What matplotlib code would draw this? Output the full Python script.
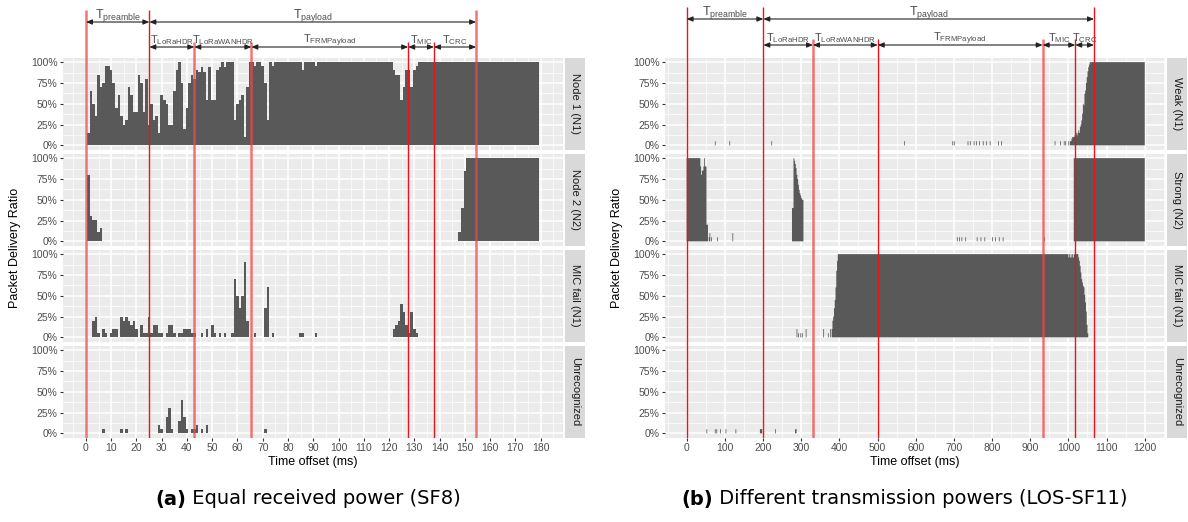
import matplotlib
matplotlib.use('Agg')
import matplotlib.pyplot as plt
import numpy as np
from matplotlib.ticker import MultipleLocator

plt.rcParams['font.family'] = ['Liberation Sans', 'DejaVu Sans']
plt.rcParams['mathtext.default'] = 'regular'

# ---------------- (a) Equal received power (SF8), 1 ms bins (centres 1..179 ms)
strips_a = ['Node 1 (N1)', 'Node 2 (N2)', 'MIC fail (N1)', 'Unrecognized']
node1_a = ([0.15, 0.65, 0.50, 0.35, 0.85, 0.70, 0.75, 0.95, 0.95, 0.90,
            0.75, 0.45, 0.60, 0.35, 0.25, 0.30, 0.70, 0.60, 0.40, 0.40,
            0.85, 0.75, 0.40, 0.80, 0.25, 0.50, 0.30, 0.35, 0.15, 0.60,
            0.55, 0.50, 0.25, 0.25, 0.65, 0.90, 1.00, 0.75, 0.20, 0.45,
            0.75, 0.85, 0.80, 0.90, 0.88, 0.94, 0.88, 0.55, 0.94, 0.55,
            0.55, 0.90, 0.94, 1.00, 0.94, 1.00, 1.00, 1.00, 0.30, 0.50,
            0.55, 0.60, 0.10, 0.70]
           + [1.0, 1.0, 0.95, 1.0, 1.0, 0.95, 0.75, 0.30, 1.0, 0.95]
           + [1.0] * 11 + [0.90] + [1.0] * 4 + [0.95] + [1.0] * 30
           + [0.90, 0.85, 0.85, 0.55, 0.70, 0.90, 0.90, 0.70, 0.90, 0.95]
           + [1.0] * 48)
node2_a_t = [1, 2, 3, 4, 5, 6, 148, 149, 150] + list(range(151, 180))
node2_a_v = [0.80, 0.31, 0.26, 0.26, 0.11, 0.16, 0.11, 0.40, 0.85] + [1.0] * 29
mic_a_t = [3, 4, 5, 7, 8, 10, 11, 12,
           14, 15, 16, 17, 18, 19, 20,
           22, 23, 24, 25, 26, 27, 28, 29, 30,
           32, 33, 34, 35,
           37, 38, 39, 40, 41, 42, 43,
           46, 48, 50, 51, 53, 55, 58,
           59, 60, 61, 62, 63, 64,
           67, 71, 72, 74,
           85, 86, 91,
           122, 123, 124, 125, 126, 127, 128, 129, 130, 131]
mic_a_v = [0.20, 0.25, 0.05, 0.10, 0.05, 0.05, 0.10, 0.10,
           0.25, 0.20, 0.25, 0.20, 0.15, 0.20, 0.10,
           0.15, 0.05, 0.05, 0.25, 0.05, 0.15, 0.15, 0.05, 0.05,
           0.05, 0.15, 0.15, 0.05,
           0.05, 0.05, 0.10, 0.10, 0.10, 0.05, 0.05,
           0.05, 0.10, 0.15, 0.05, 0.05, 0.05, 0.05,
           0.70, 0.50, 0.35, 0.50, 0.90, 0.20,
           0.05, 0.35, 0.60, 0.05,
           0.05, 0.05, 0.05,
           0.10, 0.15, 0.20, 0.40, 0.30, 0.15, 0.05, 0.30, 0.10, 0.05]
unrec_a_t = [7, 14, 16, 29, 30, 32, 33, 34, 37, 38, 39, 40, 42, 43, 44, 46, 48, 71]
unrec_a_v = [0.05, 0.05, 0.05, 0.10, 0.05, 0.20, 0.30, 0.05, 0.15, 0.40,
             0.20, 0.05, 0.05, 0.05, 0.10, 0.05, 0.10, 0.05]
main_lines_a = [0, 25.1, 154.5]
sub_lines_a = [42.9, 65.5, 127.6, 137.8]
top_spans_a = [('preamble', 0, 25.1), ('payload', 25.1, 154.5)]
sub_spans_a = [('LoRaHDR', 25.1, 42.9), ('LoRaWANHDR', 42.9, 65.5),
               ('FRMPayload', 65.5, 127.6), ('MIC', 127.6, 137.8), ('CRC', 137.8, 154.5)]

# ---------------- (b) Different transmission powers (LOS-SF11), 2 ms bins
strips_b = ['Weak (N1)', 'Strong (N2)', 'MIC fail (N1)', 'Unrecognized']
weak_runs_b = [(1056, 1200, 1.0)]
weak_b_t = [75, 113, 222, 570, 696, 701, 737, 742, 752, 758, 767, 776, 784, 794,
            816, 824, 965, 979, 989, 993, 1000, 1004,
            1007, 1009, 1011, 1013, 1015, 1017, 1019, 1021, 1023, 1025, 1027, 1029,
            1031, 1033, 1035, 1037, 1039, 1041, 1043, 1045, 1047, 1049, 1051, 1053, 1055]
weak_b_v = [0.05] * 22 + [0.05, 0.08, 0.10, 0.10, 0.10, 0.12, 0.10, 0.15, 0.12, 0.15,
                          0.18, 0.15, 0.22, 0.25, 0.30, 0.38, 0.50, 0.48, 0.62, 0.66,
                          0.75, 0.82, 0.89, 0.94, 0.97]
strong_runs_b = [(0, 36, 1.0), (1014, 1200, 1.0)]
strong_b_t = [37, 39, 41, 43, 45, 47, 49, 51, 53, 55, 59, 61, 65, 81, 121,
              277, 279, 281, 283, 285, 287, 289, 291, 293, 295, 297, 299, 301, 303, 305,
              709, 714, 721, 731, 760, 770, 780, 801, 809, 819, 829, 937]
strong_b_v = [0.90, 0.80, 0.85, 0.85, 0.90, 1.00, 0.90, 0.90, 0.20, 0.20,
              0.05, 0.10, 0.05, 0.05, 0.10,
              0.40, 0.40, 1.00, 0.97, 0.93, 0.88, 0.80, 0.75, 0.68, 0.62, 0.58,
              0.55, 0.52, 0.50, 0.50] + [0.05] * 12
mic_runs_b = [(396, 1000, 1.0), (1014, 1026, 1.0)]
mic_b_t = [289, 293, 299, 303, 313, 359, 371, 377, 381, 383, 385, 387, 389, 391, 393, 395,
           1001, 1003, 1005, 1007, 1009, 1011, 1013,
           1027, 1029, 1031, 1033, 1035, 1037, 1039, 1041, 1043, 1045, 1047, 1049, 1051]
mic_b_v = [0.10, 0.05, 0.05, 0.05, 0.10, 0.10, 0.05, 0.10, 0.10, 0.20, 0.25, 0.35,
           0.45, 0.60, 0.80, 0.92,
           0.96, 1.00, 0.96, 1.00, 0.96, 1.00, 0.96,
           0.96, 0.92, 0.86, 0.78, 0.70, 0.66, 0.62, 0.60, 0.51, 0.42, 0.31, 0.15, 0.05]
unrec_b_t = [53, 75, 79, 89, 103, 129, 193, 195, 197, 233, 285, 287]
unrec_b_v = [0.05] * 12
main_lines_b = [0, 201, 1067]
sub_lines_b = [331, 500.6, 932.6, 1018]
top_spans_b = [('preamble', 0, 201), ('payload', 201, 1067)]
sub_spans_b = [('LoRaHDR', 201, 331), ('LoRaWANHDR', 331, 500.6),
               ('FRMPayload', 500.6, 932.6), ('MIC', 932.6, 1018), ('CRC', 1018, 1067)]

W, H = 1188, 522
fig = plt.figure(figsize=(W / 100, H / 100), dpi=100)


def box(x0, y0, x1, y1):
    return [x0 / W, 1 - y1 / H, (x1 - x0) / W, (y1 - y0) / H]


def binned(edges, times, vals, runs=()):
    out = np.zeros(len(edges) - 1)
    for t0, t1, v in runs:
        out[(edges[:-1] >= t0) & (edges[1:] <= t1)] = v
    idx = np.searchsorted(edges, times, side='right') - 1
    out[idx] = vals
    return out


PANEL_TOPS = [58, 154, 250, 346]
PANEL_H = 91.5


def chart(left, right, xlim, xmajor, strips, series, edges,
          main_lines, sub_lines, light, top_spans, sub_spans, rows, line_tops, ylab_x):
    for i, (name, vals) in enumerate(zip(strips, series)):
        top = PANEL_TOPS[i]
        ax = fig.add_axes(box(left, top, right, top + PANEL_H))
        ax.set_facecolor('#ebebeb')
        ax.stairs(vals, edges, fill=True, color='#595959', lw=0)
        ax.set_xlim(xlim)
        ax.set_ylim(-0.05, 1.05)
        ax.xaxis.set_major_locator(MultipleLocator(xmajor))
        ax.xaxis.set_minor_locator(MultipleLocator(xmajor / 2))
        ax.yaxis.set_major_locator(MultipleLocator(0.25))
        ax.yaxis.set_minor_locator(MultipleLocator(0.125))
        ax.grid(which='major', color='white', lw=1.1)
        ax.grid(which='minor', color='white', lw=0.5)
        ax.set_axisbelow(True)
        for s in ax.spines.values():
            s.set_visible(False)
        ax.set_yticks([0, 0.25, 0.5, 0.75, 1.0])
        ax.set_yticklabels(['0%', '25%', '50%', '75%', '100%'])
        ax.tick_params(which='major', length=2.5, width=0.8, color='#333333',
                       labelsize=7.5, labelcolor='#4d4d4d', pad=1.5)
        ax.tick_params(which='minor', length=0)
        if i < 3:
            ax.tick_params(axis='x', which='major', length=0, labelbottom=False)
        st = fig.add_axes(box(right + 2, top, right + 22, top + PANEL_H))
        st.set_facecolor('#d9d9d9')
        st.set_xticks([])
        st.set_yticks([])
        for s in st.spines.values():
            s.set_visible(False)
        st.text(0.5, 0.5, name, rotation=-90, ha='center', va='center',
                fontsize=8, color='#1a1a1a', transform=st.transAxes)

    bottom = PANEL_TOPS[-1] + PANEL_H
    ov = fig.add_axes(box(left, 0, right, bottom))
    ov.set_xlim(xlim)
    ov.set_ylim(bottom, 0)
    ov.axis('off')
    ov.patch.set_alpha(0)
    for x in main_lines + sub_lines:
        y0 = line_tops[0] if x in main_lines else line_tops[1]
        if x in light:
            ov.vlines(x, y0, bottom, color='#f04848', lw=1.8, alpha=0.75)
        else:
            ov.vlines(x, y0, bottom, color='#e8141c', lw=1.0)
    for (spans, y, fs) in [(top_spans, rows[0], 9), (sub_spans, rows[1], 8)]:
        for label, x0, x1 in spans:
            ov.annotate('', xy=(x1, y), xytext=(x0, y),
                        arrowprops=dict(arrowstyle='<|-|>,head_length=0.6,head_width=0.25',
                                        color='#222222', lw=0.8, mutation_scale=6,
                                        shrinkA=0, shrinkB=0))
            ov.text((x0 + x1) / 2, y - 4, 'T$_{' + label + '}$', ha='center',
                    va='baseline', fontsize=fs, color='#4d4d4d')

    fig.text(ylab_x / W, 1 - 248 / H, 'Packet Delivery Ratio', rotation=90,
             ha='center', va='center', fontsize=9, color='black')
    fig.text((left + right) / 2 / W, 1 - 462 / H, 'Time offset (ms)',
             ha='center', va='center', fontsize=9, color='black')


edges_a = np.arange(0.5, 180.5, 1.0)
series_a = [np.array(node1_a),
            binned(edges_a, node2_a_t, node2_a_v),
            binned(edges_a, mic_a_t, mic_a_v),
            binned(edges_a, unrec_a_t, unrec_a_v)]
chart(63, 563, (-9.1, 188.9), 10, strips_a, series_a, edges_a,
      main_lines_a, sub_lines_a, {0, 42.9, 65.5, 154.5},
      top_spans_a, sub_spans_a, (22, 47), (10, 42), 15)

edges_b = np.arange(0, 1202, 2.0)
series_b = [binned(edges_b, weak_b_t, weak_b_v, weak_runs_b),
            binned(edges_b, strong_b_t, strong_b_v, strong_runs_b),
            binned(edges_b, mic_b_t, mic_b_v, mic_runs_b),
            binned(edges_b, unrec_b_t, unrec_b_v)]
chart(665, 1165, (-56.6, 1253), 100, strips_b, series_b, edges_b,
      main_lines_b, sub_lines_b, {331, 932.6},
      top_spans_b, sub_spans_b, (19, 45), (7, 39), 617)

renderer = fig.canvas.get_renderer()
for cx, tag, text in [(308, '(a)', 'Equal received power (SF8)'),
                      (904, '(b)', 'Different transmission powers (LOS-SF11)')]:
    t1 = fig.text(0, 1 - 499 / H, tag, fontsize=14, fontweight='bold',
                  family='DejaVu Sans', va='center')
    t2 = fig.text(0, 1 - 499 / H, ' ' + text, fontsize=14,
                  family='DejaVu Sans', va='center')
    w1 = t1.get_window_extent(renderer).width
    w2 = t2.get_window_extent(renderer).width
    x0 = cx - (w1 + w2) / 2
    t1.set_x(x0 / W)
    t2.set_x((x0 + w1) / W)

fig.savefig('out.png', dpi=100)
